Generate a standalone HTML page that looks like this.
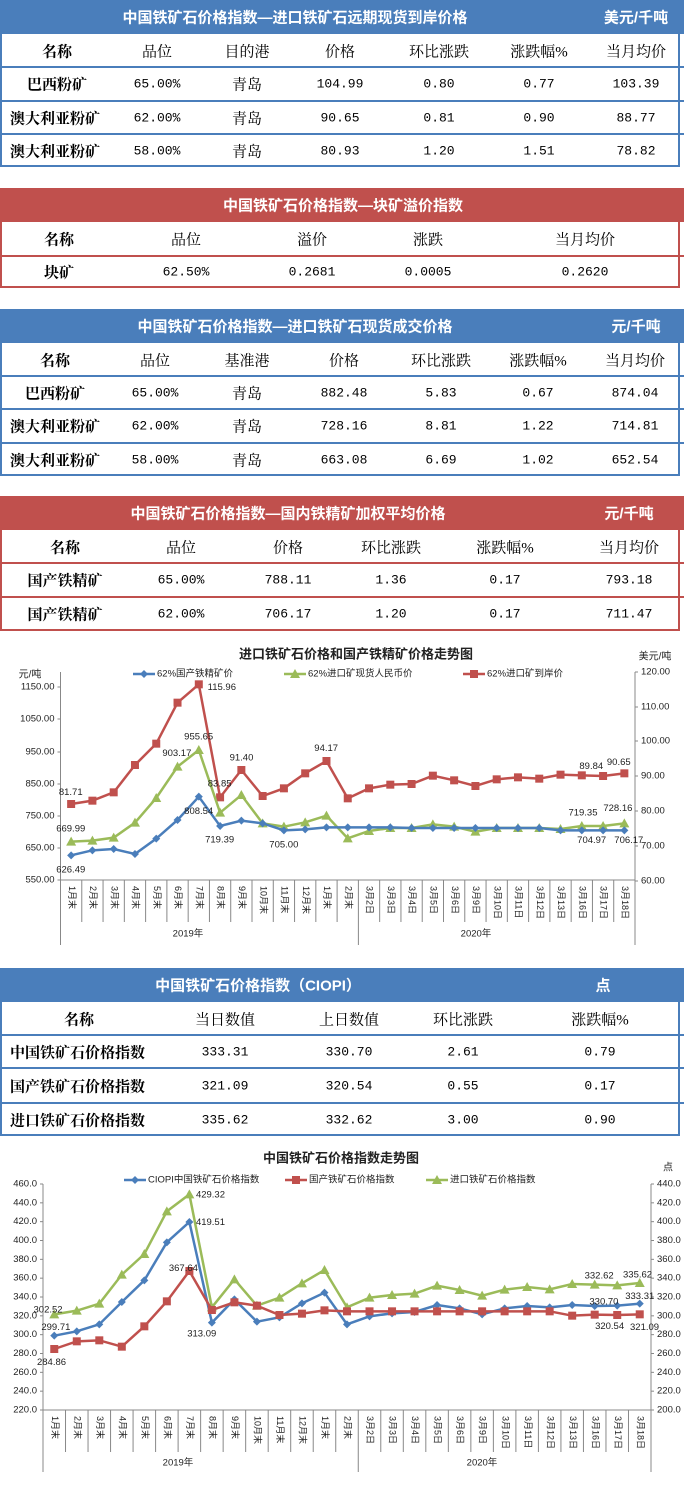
<!DOCTYPE html>
<html><head><meta charset="utf-8">
<style>
body{margin:0;width:684px;height:1487px;position:relative;background:#fff;overflow:hidden;font-family:"Liberation Serif","Noto Serif CJK SC",serif;}
.hd{position:absolute;left:0;width:684px;color:#fff;font-family:"Liberation Sans","Noto Sans CJK SC",sans-serif;font-weight:bold;font-size:15px;}
.b{background:#4a7ebb}.r{background:#c0504d}
.tb{position:absolute;left:0;width:680px;box-sizing:border-box;}
.tb.bb{border:2px solid #4a7ebb;border-top:none}.tb.rb{border:2px solid #c0504d;border-top:none}
.ln{position:absolute;left:0;width:684px;height:2px}
.t{position:absolute;transform:translate(-50%,-50%);white-space:nowrap;font-size:15px;color:#000}
.n{font-family:"Liberation Mono",monospace;font-size:13px}
.k{font-weight:bold;font-family:"Liberation Serif","Noto Serif CJK SC",serif}
.l{transform:translate(0,-50%)}
svg text{font-family:"Liberation Sans","Noto Sans CJK SC",sans-serif}
</style></head><body>
<div id="root"></div>
<svg id="c1" style="position:absolute;left:0;top:0" width="684" height="1487"></svg>
<script>
var R=document.getElementById('root');
function add(h){R.insertAdjacentHTML('beforeend',h);}
function T(x,y,s,c){add('<div class="t '+(c||'')+'" style="left:'+x+'px;top:'+y+'px">'+s+'</div>');}
function table(top,hh,color,title,tx,unit,ux,lines,bottom,cols,rows){
 add('<div class="hd '+color+'" style="top:'+top+'px;height:'+hh+'px"></div>');
 T(tx,top+hh/2,title);
 R.lastChild.style.color='#fff';R.lastChild.style.fontWeight='bold';R.lastChild.style.fontFamily='"Liberation Sans","Noto Sans CJK SC",sans-serif';
 if(unit){T(ux,top+hh/2,unit);R.lastChild.style.color='#fff';R.lastChild.style.fontWeight='bold';R.lastChild.style.fontFamily='"Liberation Sans","Noto Sans CJK SC",sans-serif';}
 add('<div class="tb '+(color=='b'?'bb':'rb')+'" style="top:'+(top+hh)+'px;height:'+(bottom-top-hh)+'px"></div>');
 var lc=color=='b'?'#4a7ebb':'#c0504d';
 lines.forEach(function(y){add('<div class="ln" style="top:'+(y-1)+'px;background:'+lc+'"></div>');});
 var ys=[top+hh].concat(lines).concat([bottom]);
 rows.forEach(function(row,i){var cy=(ys[i]+ys[i+1])/2;
  row.forEach(function(c,j){var cls=j==0?'k':(i>0&&/^[0-9.%]+$/.test(c)?'n':'');
   if(j==0&&c.charAt(0)=='^'){add('<div class="t k l" style="left:10px;top:'+cy+'px">'+c.slice(1)+'</div>');}
   else T(cols[j],cy,c,cls);});});
}
table(0,34,'b','中国铁矿石价格指数—进口铁矿石远期现货到岸价格',295,'美元/千吨',636,[67,101,134],167,[57,157,247,340,439,539,636],
[['名称','品位','目的港','价格','环比涨跌','涨跌幅%','当月均价'],['巴西粉矿','65.00%','青岛','104.99','0.80','0.77','103.39'],['^澳大利亚粉矿','62.00%','青岛','90.65','0.81','0.90','88.77'],['^澳大利亚粉矿','58.00%','青岛','80.93','1.20','1.51','78.82']]);
table(188,34,'r','中国铁矿石价格指数—块矿溢价指数',343,'',0,[256],288,[59,186,312,428,585],
[['名称','品位','溢价','涨跌','当月均价'],['块矿','62.50%','0.2681','0.0005','0.2620']]);
table(309,34,'b','中国铁矿石价格指数—进口铁矿石现货成交价格',295,'元/千吨',636,[376,409,443],476,[55,155,247,344,441,538,635],
[['名称','品位','基准港','价格','环比涨跌','涨跌幅%','当月均价'],['巴西粉矿','65.00%','青岛','882.48','5.83','0.67','874.04'],['^澳大利亚粉矿','62.00%','青岛','728.16','8.81','1.22','714.81'],['^澳大利亚粉矿','58.00%','青岛','663.08','6.69','1.02','652.54']]);
table(496,34,'r','中国铁矿石价格指数—国内铁精矿加权平均价格',288,'元/千吨',629,[563,597],631,[65,181,288,391,505,629],
[['名称','品位','价格','环比涨跌','涨跌幅%','当月均价'],['国产铁精矿','65.00%','788.11','1.36','0.17','793.18'],['国产铁精矿','62.00%','706.17','1.20','0.17','711.47']]);
table(968,34,'b','中国铁矿石价格指数（CIOPI）',258,'点',603,[1035,1068,1103],1136,[79,225,349,463,600],
[['名称','当日数值','上日数值','环比涨跌','涨跌幅%'],['^中国铁矿石价格指数','333.31','330.70','2.61','0.79'],['^国产铁矿石价格指数','321.09','320.54','0.55','0.17'],['^进口铁矿石价格指数','335.62','332.62','3.00','0.90']]);
var S='';
function tx(x,y,s,o){o=o||{};S+='<text x="'+x+'" y="'+y+'" font-size="'+(o.fs||10)+'" fill="#222" text-anchor="'+(o.a||'middle')+'"'+(o.w?' font-weight="bold"':'')+(o.t?' transform="'+o.t+'"':'')+' dominant-baseline="middle">'+s+'</text>';}
function L(x1,y1,x2,y2,c,w){S+='<line x1="'+x1+'" y1="'+y1+'" x2="'+x2+'" y2="'+y2+'" stroke="'+(c||'#888')+'" stroke-width="'+(w||1)+'"/>';}
function mk(t,x,y,c){if(t=='d')S+='<polygon points="'+x+','+(y-4)+' '+(x+4)+','+y+' '+x+','+(y+4)+' '+(x-4)+','+y+'" fill="'+c+'"/>';
 else if(t=='s')S+='<rect x="'+(x-4)+'" y="'+(y-4)+'" width="8" height="8" fill="'+c+'"/>';
 else S+='<polygon points="'+x+','+(y-5)+' '+(x+5)+','+(y+4)+' '+(x-5)+','+(y+4)+'" fill="'+c+'"/>';}
function series(x0,dx,off,zy,c,t){var p=zy.map(function(v,i){return [x0+i*dx,v/3+off];});
 S+='<polyline fill="none" stroke="'+c+'" stroke-width="2.5" points="'+p.map(function(a){return a.join(',')}).join(' ')+'"/>';
 p.forEach(function(a){mk(t,a[0],a[1],c);});}
var cats=['1月末','2月末','3月末','4月末','5月末','6月末','7月末','8月末','9月末','10月末','11月末','12月末','1月末','2月末','3月2日','3月3日','3月4日','3月5日','3月6日','3月9日','3月10日','3月11日','3月12日','3月13日','3月16日','3月17日','3月18日'];
var B='#4a7ebb',RD='#c0504d',G='#9bbb59';
function chart(o){
 tx(o.tx,o.ty,o.title,{fs:13,w:1});
 o.left.forEach(function(v){tx(o.ax-6,v[1],v[0],{a:'end',fs:9.5});L(o.ax-3,v[1],o.ax,v[1]);});
 o.right.forEach(function(v){tx(o.bx+6,v[1],v[0],{a:'start',fs:9.5});L(o.bx,v[1],o.bx+3,v[1]);});
 L(o.ax,o.top,o.ax,o.vb);L(o.bx,o.top,o.bx,o.vb);L(o.ax,o.base,o.bx,o.base);
 var w=(o.bx-o.ax)/27;
 for(var i=1;i<27;i++){var xx=o.ax+i*w;L(xx,o.base,xx,i==14?o.vb:o.tk);}
 cats.forEach(function(c,i){var xx=o.ax+(i+0.5)*w;tx(xx,o.base+6,c,{a:'start',fs:9,t:'rotate(90 '+xx+' '+(o.base+6)+')'});});
 tx(o.y1x,o.yy,'2019年',{fs:9.5});tx(o.y2x,o.yy,'2020年',{fs:9.5});
 o.leg.forEach(function(g){L(g[0],o.ly,g[0]+22,o.ly,g[2],2.5);mk(g[3],g[0]+11,o.ly,g[2]);tx(g[0]+24,o.ly,g[1],{a:'start',fs:9.5});});
 o.ser.forEach(function(s){series(o.ax+w/2,w,o.off,s[0],s[1],s[2]);});
 o.lab.forEach(function(l){tx(l[1]/2.29,l[2]/3+o.off,l[0],{fs:9.5});});
 o.extra.forEach(function(e){tx(e[1],e[2],e[0],{fs:10});});
}
chart({title:'进口铁矿石价格和国产铁精矿价格走势图',tx:356,ty:655,ax:60.5,bx:635,top:672,base:880,tk:922,vb:945,yy:934,y1x:188,y2x:476,off:630,ly:674,
left:[['1150.00',687],['1050.00',719],['950.00',752],['850.00',784],['750.00',816],['650.00',848],['550.00',880]],
right:[['120.00',672],['110.00',707],['100.00',741],['90.00',776],['80.00',811],['70.00',846],['60.00',881]],
leg:[[133,'62%国产铁精矿价',B,'d'],[284,'62%进口矿现货人民币价',G,'t'],[463,'62%进口矿到岸价',RD,'s']],
ser:[[[522,512,487,405,341,218,163,502,420,498,475,430,393,505,475,464,462,437,451,468,448,442,446,434,436,438,430],RD,'s'],
[[635,632,623,578,504,410,360,548,495,580,590,577,557,625,603,594,594,583,590,605,594,594,594,597,588,588,580],G,'t'],
[[676,661,657,672,626,570,500,588,572,580,601,598,592,592,592,592,594,594,594,594,594,594,594,601,601,601,601],B,'d']],
lab:[['81.71',162,487],['669.99',162,597],['626.49',162,720],['955.65',455,321],['903.17',405,371],['115.96',508,172],['808.54',455,545],['83.85',503,462],['719.39',503,630],['91.40',553,384],['705.00',650,645],['94.17',747,356],['719.35',1335,549],['89.84',1354,410],['704.97',1355,632],['728.16',1415,535],['90.65',1417,398],['706.17',1440,632]],
extra:[['元/吨',30,675],['美元/吨',655,657]]});
chart({title:'中国铁矿石价格指数走势图',tx:341,ty:1159,ax:43,bx:651,top:1184,base:1410,tk:1452,vb:1472,yy:1463,y1x:178,y2x:482,off:1140,ly:1180,
left:[460,440,420,400,380,360,340,320,300,280,260,240,220].map(function(v,i){return [v.toFixed(1),1184+i*226/12];}),
right:[440,420,400,380,360,340,320,300,280,260,240,220,200].map(function(v,i){return [v.toFixed(1),1184+i*226/12];}),
leg:[[124,'CIOPI中国铁矿石价格指数',B,'d'],[285,'国产铁矿石价格指数',RD,'s'],[426,'进口铁矿石价格指数',G,'t']],
ser:[[[523,512,491,404,342,214,163,502,418,497,473,430,390,502,473,465,461,437,450,467,449,441,448,432,434,436,429],G,'t'],
[[587,574,553,486,421,307,246,548,478,545,532,490,458,553,529,520,516,495,505,523,505,498,502,495,498,497,491],B,'d'],
[[627,604,601,620,559,484,393,510,487,497,525,521,511,514,514,514,514,514,514,514,514,514,514,527,524,525,523],RD,'s']],
lab:[['302.52',110,510],['299.71',128,563],['284.86',118,667],['429.32',482,165],['419.51',482,248],['367.64',420,385],['313.09',462,582],['332.62',1372,408],['335.62',1460,405],['330.70',1383,486],['333.31',1465,470],['320.54',1396,560],['321.09',1476,562]],
extra:[['点',668,1168]]});
document.getElementById('c1').innerHTML=S;
</script>
</body></html>
